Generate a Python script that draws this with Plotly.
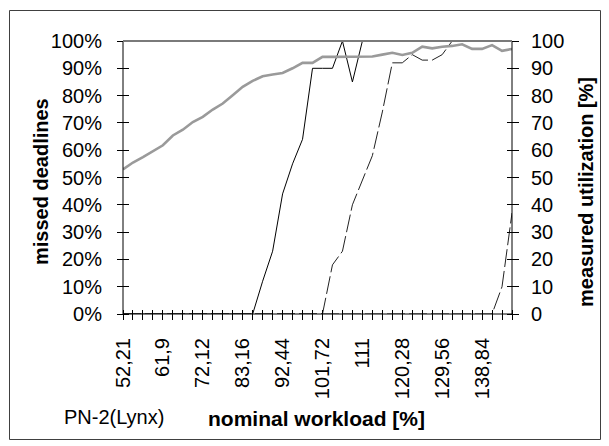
import plotly.graph_objects as go

# ---- data ----
n_categories = 40
category_index = list(range(n_categories))
label_every = 4
workload_labels = ["52,21", "61,9", "72,12", "83,16", "92,44",
                   "101,72", "111", "120,28", "129,56", "138,84"]

utilization = [53, 55.5, 57.5, 59.5, 61.8, 65.4, 67.5, 70.3, 72.2, 74.9,
               77.1, 80.1, 83.2, 85.4, 87.1, 87.7, 88.3, 90.0, 92.0, 92.0,
               94.2, 94.2, 94.2, 94.2, 94.2, 94.3, 95.0, 95.7, 94.9, 95.7,
               97.9, 97.3, 97.9, 98.2, 98.8, 97.1, 97.1, 98.5, 96.4, 97.1]

missed_a = [0, 0, 0, 0, 0, 0, 0, 0, 0, 0,
            0, 0, 0, 0, 12, 23, 44, 55, 64, 90,
            90, 90, 100, 85, 100, 100, 100, 100, 100, 100,
            100, 100, 100, 100, 100, 100, 100, 100, 100, 100]

missed_b = [0, 0, 0, 0, 0, 0, 0, 0, 0, 0,
            0, 0, 0, 0, 0, 0, 0, 0, 0, 0,
            0, 18, 23, 40, 49, 58, 74, 92, 92, 95,
            93, 93, 95, 100, 100, 100, 100, 100, 100, 100]

missed_c = [0, 0, 0, 0, 0, 0, 0, 0, 0, 0,
            0, 0, 0, 0, 0, 0, 0, 0, 0, 0,
            0, 0, 0, 0, 0, 0, 0, 0, 0, 0,
            0, 0, 0, 0, 0, 0, 0, 0, 10, 37]

tick_text = [workload_labels[i // label_every] if i % label_every == 0 else ""
             for i in category_index]

FONT = "Arial, Liberation Sans, sans-serif"
OFF = 8  # page body margin
W, H = 609 - OFF, 446 - OFF
# plot area in screen pixels: x 123..512, y 41..314
L, T = 123 - OFF, 41 - OFF
R, B = W - (512 - OFF), H - (314 - OFF)
pw, ph = W - L - R, H - T - B

# tick marks cross the axis lines: ticks start this far inside the plot area
X_TICK_IN, X_TICK_OUT = 5, 5
Y_TICK_IN, Y_TICK_OUT = 6, 6

fig = go.Figure()
fig.add_trace(go.Scatter(x=category_index, y=missed_a, mode="lines",
                         line=dict(color="#000000", width=1), yaxis="y", xaxis="x"))
fig.add_trace(go.Scatter(x=category_index, y=missed_b, mode="lines",
                         line=dict(color="#222222", width=1, dash="18px,4px"), yaxis="y", xaxis="x"))
fig.add_trace(go.Scatter(x=category_index, y=missed_c, mode="lines",
                         line=dict(color="#222222", width=1, dash="18px,4px"), yaxis="y", xaxis="x"))
fig.add_trace(go.Scatter(x=category_index, y=utilization, mode="lines",
                         line=dict(color="#9a9a9a", width=2.6), yaxis="y2", xaxis="x"))

tickfont = dict(family=FONT, size=20, color="#000000")
common_y = dict(range=[0, 100], dtick=10, tick0=0, showgrid=False, zeroline=False,
                ticks="outside", ticklen=Y_TICK_IN + Y_TICK_OUT, tickcolor="black",
                tickwidth=1, showline=False, tickfont=tickfont)

fig.update_layout(
    width=W, height=H,
    margin=dict(l=L, r=R, t=T, b=B, pad=0),
    paper_bgcolor="white", plot_bgcolor="white",
    showlegend=False,
    xaxis=dict(range=[0, n_categories - 1], tickmode="array", tickvals=category_index,
               ticktext=tick_text, tickangle=-90, ticks="outside",
               ticklen=X_TICK_IN + X_TICK_OUT, tickcolor="black", tickwidth=1,
               showline=False, showgrid=False, zeroline=False, tickfont=tickfont,
               anchor="free", position=X_TICK_IN / ph, ticklabelstandoff=10),
    yaxis=dict(**common_y, ticksuffix="%", anchor="free", position=Y_TICK_IN / pw,
               ticklabelstandoff=11),
    yaxis2=dict(**common_y, overlaying="y", side="right", anchor="free",
                position=1 - Y_TICK_IN / pw, ticklabelstandoff=8),
)

def px(x):
    return (x - OFF - L) / pw
def py(y):
    return (H - B - (y - OFF)) / ph

# axis lines (black) and grey plot-area border on top
for x0, y0, x1, y1 in [(0, 0, 0, 1), (0, 0, 1, 0), (1, 0, 1, 1)]:
    fig.add_shape(type="line", xref="paper", yref="paper", x0=x0, y0=y0, x1=x1, y1=y1,
                  line=dict(color="black", width=1))
fig.add_shape(type="line", xref="paper", yref="paper", x0=0, x1=1, y0=1, y1=1,
              line=dict(color="#7a7a7a", width=2))
# chart frame
fig.add_shape(type="rect", xref="paper", yref="paper",
              x0=px(9.5), x1=px(600.5), y0=py(10.5), y1=py(439.5),
              line=dict(color="#404040", width=1))

ann = dict(xref="paper", yref="paper", showarrow=False, xanchor="center", yanchor="middle")
fig.add_annotation(text="<b>missed deadlines</b>", x=px(41), y=py(182), textangle=-90,
                   font=dict(family=FONT, size=20, color="#000"), **ann)
fig.add_annotation(text="<b>measured utilization [%]</b>", x=px(586), y=py(192),
                   textangle=-90, font=dict(family=FONT, size=20, color="#000"), **ann)
fig.add_annotation(text="<b>nominal workload [%]</b>", x=px(316), y=py(418),
                   font=dict(family=FONT, size=21, color="#000"), **ann)
fig.add_annotation(text="PN-2(Lynx)", x=px(114), y=py(417),
                   font=dict(family=FONT, size=20, color="#000"), **ann)

fig.write_html("out.html")
